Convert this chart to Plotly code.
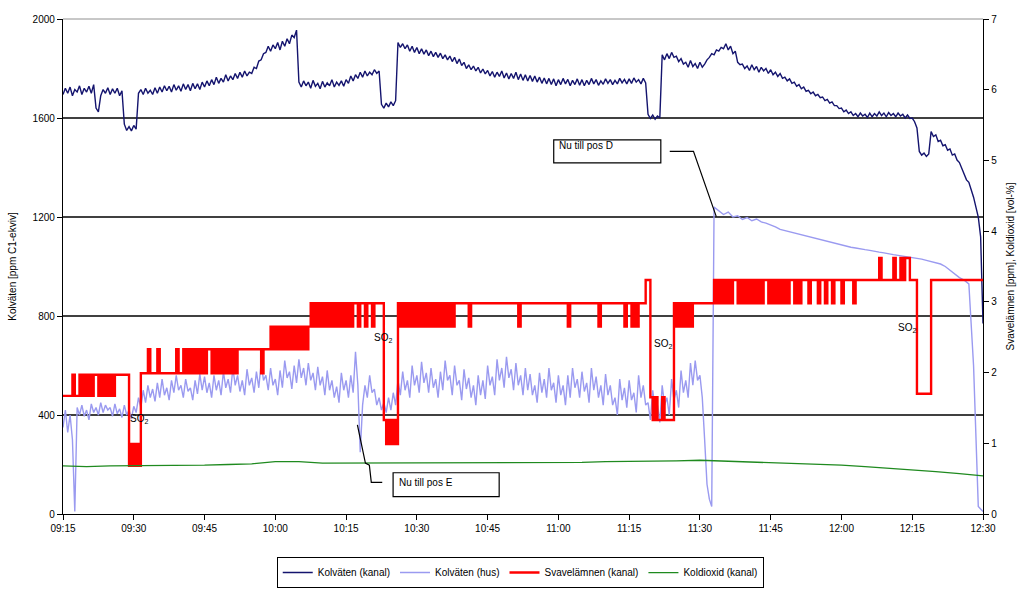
import pandas as pd
import plotly.graph_objects as go

# ---- time base -------------------------------------------------------------
START = pd.Timestamp("2000-01-01 09:15")
END = pd.Timestamp("2000-01-01 12:30")

# minutes after 09:15
t_half = [i * 0.5 for i in range(391)]                       # 09:15 - 12:30, 30 s
t_hus = [i * 0.5 for i in range(277)] + list(range(139, 196))  # 30 s until 11:33, then 1 min
t_5min = list(range(0, 196, 5))

# ---- Kolväten (kanal), ppm C1-ekviv, every 30 s ----------------------------
kolvaten_kanal = [
    1695, 1720, 1700, 1725, 1690, 1715, 1705, 1730, 1695, 1720, 1705, 1728, 1700, 1735, 1640, 1625, 1690, 1715, 1700, 1722,
    1695, 1718, 1700, 1720, 1690, 1710, 1575, 1550, 1565, 1548, 1570, 1555, 1700, 1715, 1695, 1720, 1700, 1712, 1695, 1722,
    1700, 1725, 1705, 1730, 1710, 1728, 1705, 1735, 1712, 1730, 1708, 1738, 1715, 1735, 1710, 1740, 1718, 1738, 1715, 1745,
    1725, 1750, 1730, 1755, 1735, 1765, 1740, 1760, 1745, 1775, 1750, 1770, 1755, 1780, 1760, 1785, 1765, 1790, 1770, 1785,
    1780, 1805, 1800, 1830, 1835, 1860, 1865, 1890, 1870, 1895, 1880, 1905, 1875, 1910, 1890, 1920, 1900, 1935, 1925, 1955,
    1745, 1725, 1750, 1730, 1745, 1720, 1752, 1728, 1740, 1718, 1748, 1725, 1742, 1730, 1755, 1725, 1745, 1732, 1750, 1728,
    1755, 1740, 1770, 1750, 1775, 1760, 1785, 1765, 1790, 1770, 1785, 1775, 1795, 1780, 1790, 1655, 1640, 1660, 1645, 1665,
    1650, 1670, 1905, 1885, 1900, 1880, 1895, 1870, 1890, 1865, 1885, 1860, 1880, 1858, 1875, 1852, 1870, 1848, 1865, 1845,
    1862, 1840, 1855, 1835, 1850, 1828, 1845, 1820, 1838, 1812, 1825, 1800, 1815, 1795, 1810, 1790, 1805, 1782, 1798, 1778,
    1792, 1770, 1788, 1765, 1785, 1768, 1790, 1762, 1782, 1758, 1780, 1760, 1785, 1755, 1778, 1752, 1775, 1750, 1772, 1748,
    1770, 1745, 1765, 1740, 1762, 1738, 1760, 1735, 1758, 1730, 1755, 1735, 1760, 1738, 1756, 1730, 1752, 1735, 1758, 1732,
    1755, 1730, 1752, 1735, 1760, 1738, 1755, 1732, 1750, 1736, 1758, 1740, 1755, 1735, 1752, 1738, 1760, 1742, 1756, 1738,
    1758, 1740, 1762, 1745, 1755, 1738, 1760, 1742, 1615, 1598, 1612, 1595, 1608, 1600, 1855, 1835, 1860, 1840, 1865, 1845,
    1850, 1828, 1840, 1818, 1825, 1805, 1832, 1808, 1820, 1800, 1825, 1805, 1818, 1835, 1845, 1860, 1855, 1875, 1870, 1885,
    1880, 1900, 1875, 1890, 1860, 1870, 1825, 1815, 1818, 1800, 1810, 1792, 1815, 1795, 1808, 1785, 1805, 1790, 1800, 1780,
    1795, 1775, 1785, 1768, 1780, 1760, 1765, 1750, 1758, 1740, 1745, 1728, 1735, 1718, 1725, 1708, 1712, 1698, 1705, 1690,
    1695, 1682, 1685, 1670, 1675, 1660, 1665, 1650, 1650, 1638, 1640, 1625, 1632, 1618, 1625, 1610, 1618, 1605, 1620, 1608,
    1615, 1602, 1620, 1605, 1618, 1608, 1625, 1610, 1620, 1605, 1622, 1610, 1618, 1605, 1620, 1608, 1615, 1600, 1612, 1598,
    1600, 1585, 1560, 1465, 1450, 1458, 1445, 1455, 1545, 1525, 1532, 1505, 1510, 1488, 1492, 1470, 1475, 1450, 1455, 1430,
    1420, 1395, 1375, 1350, 1340, 1310, 1280, 1240, 1200, 1120, 770,
]

# ---- Kolväten (hus), ppm C1-ekviv ------------------------------------------
kolvaten_hus = [
    350, 420, 330, 400, 300, 10, 430, 400, 440, 395, 420, 380, 445, 410, 430, 400, 450, 410, 440, 420,
    430, 395, 445, 405, 425, 390, 440, 400, 420, 385, 435, 410, 470, 430, 500, 450, 520, 470, 505, 455,
    530, 470, 545, 480, 510, 460, 540, 490, 560, 500, 520, 470, 545, 495, 510, 460, 540, 485, 565, 500,
    555, 490, 530, 470, 560, 500, 540, 480, 575, 510, 545, 490, 590, 520, 560, 495, 540, 480, 585, 520,
    550, 490, 575, 510, 610, 540, 560, 500, 590, 520, 545, 480, 580, 510, 620, 550, 575, 505, 600, 530,
    625, 550, 590, 520, 610, 540, 570, 500, 595, 520, 555, 480, 580, 500, 540, 470, 515, 450, 570, 500,
    540, 470, 560, 490, 655, 520, 250, 440, 520, 470, 560, 490, 505, 440, 470, 420, 450, 410, 470, 420,
    490, 440, 540, 480, 575, 500, 540, 470, 600, 520, 560, 490, 615, 530, 570, 490, 590, 510, 545, 470,
    575, 500, 620, 540, 560, 480, 600, 520, 540, 460, 585, 505, 550, 470, 520, 440, 560, 480, 540, 465,
    600, 520, 555, 480, 625, 540, 590, 510, 635, 550, 585, 500, 610, 520, 560, 480, 590, 500, 565, 480,
    520, 450, 570, 490, 545, 470, 590, 500, 530, 450, 560, 480, 520, 440, 560, 470, 590, 510, 545, 470,
    575, 495, 530, 450, 590, 500, 555, 470, 520, 440, 565, 480, 520, 440, 470, 400, 545, 460, 510, 430,
    540, 460, 490, 410, 560, 470, 520, 440, 450, 380, 500, 420, 440, 370, 520, 440, 470, 400, 545, 460,
    500, 430, 580, 490, 540, 470, 610, 520, 620, 540, 560, 470, 300, 120, 60, 30, 1240,
    1225, 1210, 1220, 1200, 1205, 1190, 1198, 1185, 1192, 1180, 1175,
    1168, 1160, 1150, 1145, 1140, 1135, 1130, 1125, 1122, 1115,
    1110, 1105, 1100, 1098, 1092, 1085, 1082, 1078, 1075, 1070,
    1068, 1065, 1060, 1058, 1055, 1050, 1048, 1045, 1042, 1040,
    1038, 1035, 1030, 1025, 1020, 1015, 1010, 1000, 985, 970,
    955, 945, 930, 600, 30, 10,
]

# ---- Svavelämnen (kanal), ppm, every 30 s ----------------------------------
svavelamnen = [
    1.67, 1.67, 1.67, 1.67, 1.97, 1.67, 1.67, 1.97, 1.67, 1.97, 1.67, 1.97, 1.67, 1.97, 1.97, 1.67, 1.97, 1.67, 1.97, 1.67,
    1.97, 1.67, 1.97, 1.97, 1.97, 1.97, 1.97, 1.97, 0.68, 0.99, 0.68, 0.99, 0.68, 1.99, 1.99, 1.99, 2.33, 1.99, 1.99, 1.99,
    2.33, 1.99, 1.99, 1.99, 1.99, 1.99, 1.99, 1.99, 2.33, 1.99, 1.99, 2.33, 1.99, 2.33, 1.99, 2.33, 1.99, 2.33, 1.99, 2.33,
    1.99, 2.33, 2.33, 1.99, 2.33, 1.99, 2.33, 1.99, 2.33, 1.99, 2.33, 1.99, 2.33, 1.99, 2.33, 2.33, 2.33, 2.33, 2.33, 2.33,
    2.33, 2.33, 2.33, 2.33, 1.99, 2.33, 2.33, 2.33, 2.65, 2.33, 2.65, 2.33, 2.65, 2.33, 2.65, 2.33, 2.65, 2.33, 2.65, 2.33,
    2.65, 2.33, 2.65, 2.33, 2.65, 2.98, 2.65, 2.98, 2.65, 2.98, 2.65, 2.98, 2.65, 2.98, 2.65, 2.98, 2.65, 2.98, 2.65, 2.98,
    2.65, 2.98, 2.65, 2.98, 2.98, 2.65, 2.98, 2.98, 2.65, 2.98, 2.98, 2.65, 2.98, 2.98, 2.98, 2.98, 1.33, 0.99, 1.33, 0.99,
    1.33, 0.99, 2.98, 2.65, 2.98, 2.65, 2.98, 2.65, 2.98, 2.65, 2.98, 2.65, 2.98, 2.65, 2.98, 2.65, 2.98, 2.65, 2.98, 2.65,
    2.98, 2.65, 2.98, 2.65, 2.98, 2.65, 2.98, 2.98, 2.98, 2.98, 2.98, 2.98, 2.65, 2.98, 2.98, 2.98, 2.98, 2.98, 2.98, 2.98,
    2.98, 2.98, 2.98, 2.98, 2.98, 2.98, 2.98, 2.98, 2.98, 2.98, 2.98, 2.98, 2.98, 2.65, 2.98, 2.98, 2.98, 2.98, 2.98, 2.98,
    2.98, 2.98, 2.98, 2.98, 2.98, 2.98, 2.98, 2.98, 2.98, 2.98, 2.98, 2.98, 2.98, 2.98, 2.65, 2.98, 2.98, 2.98, 2.98, 2.98,
    2.98, 2.98, 2.98, 2.98, 2.98, 2.98, 2.98, 2.65, 2.98, 2.98, 2.98, 2.98, 2.98, 2.98, 2.98, 2.98, 2.98, 2.98, 2.65, 2.98,
    2.98, 2.65, 2.98, 2.65, 2.98, 2.98, 2.98, 3.31, 3.31, 1.65, 1.33, 1.65, 1.33, 1.33, 1.65, 1.33, 1.33, 1.33, 1.33, 2.98,
    2.65, 2.98, 2.65, 2.98, 2.65, 2.98, 2.65, 2.98, 2.98, 2.98, 2.98, 2.98, 2.98, 2.98, 2.98, 2.98, 3.31, 2.98, 3.31, 2.98,
    3.31, 2.98, 3.31, 2.98, 3.31, 3.31, 2.98, 3.31, 2.98, 3.31, 2.98, 3.31, 2.98, 3.31, 2.98, 3.31, 2.98, 3.31, 3.31, 2.98,
    3.31, 2.98, 3.31, 2.98, 3.31, 2.98, 3.31, 2.98, 3.31, 3.31, 2.98, 3.31, 2.98, 3.31, 3.31, 3.31, 2.98, 3.31, 3.31, 3.31,
    2.98, 3.31, 3.31, 2.98, 3.31, 3.31, 2.98, 3.31, 3.31, 3.31, 2.98, 3.31, 3.31, 3.31, 3.31, 2.98, 3.31, 3.31, 3.31, 3.31,
    3.31, 3.31, 3.31, 3.31, 3.31, 3.31, 3.62, 3.31, 3.31, 3.31, 3.31, 3.31, 3.62, 3.31, 3.31, 3.62, 3.31, 3.62, 3.62, 3.31,
    3.31, 3.31, 1.70, 1.70, 1.70, 1.70, 1.70, 1.70, 3.31, 3.31, 3.31, 3.31, 3.31, 3.31, 3.31, 3.31, 3.31, 3.31, 3.31, 3.31,
    3.31, 3.31, 3.31, 3.31, 3.31, 3.31, 3.31, 3.31, 3.31, 3.31, 3.31,
]

# ---- Koldioxid (kanal), vol-%, every 5 min ---------------------------------
koldioxid = [
    0.68, 0.67, 0.68, 0.68, 0.68, 0.69, 0.69, 0.70, 0.71, 0.74,
    0.74, 0.72, 0.72, 0.72, 0.72, 0.72, 0.73, 0.72, 0.73, 0.73,
    0.72, 0.73, 0.73, 0.74, 0.74, 0.75, 0.75, 0.76, 0.75, 0.74,
    0.72, 0.71, 0.70, 0.69, 0.67, 0.65, 0.63, 0.60, 0.57, 0.54,
]

# ---- axes ------------------------------------------------------------------
left_ticks = [0, 400, 800, 1200, 1600, 2000]
grid_levels = [400, 800, 1200, 1600]
right_ticks = [0, 1, 2, 3, 4, 5, 6, 7]

FONT = "Liberation Sans, Arial, sans-serif"


def clock(mins):
    return [START + pd.Timedelta(minutes=m) for m in mins]


fig = go.Figure()
fig.add_trace(go.Scatter(x=clock(t_half), y=kolvaten_kanal, name="Kolväten (kanal)",
                         mode="lines", line=dict(color="#14146e", width=1.4)))
fig.add_trace(go.Scatter(x=clock(t_hus), y=kolvaten_hus, name="Kolväten (hus)",
                         mode="lines", line=dict(color="#9a9af0", width=1.4)))
fig.add_trace(go.Scatter(x=clock(t_half), y=svavelamnen, name="Svavelämnen (kanal)",
                         mode="lines", line=dict(color="#ff0000", width=2.4, shape="hv"),
                         yaxis="y2"))
fig.add_trace(go.Scatter(x=clock(t_5min), y=koldioxid, name="Koldioxid (kanal)",
                         mode="lines", line=dict(color="#1f8a1f", width=1.3),
                         yaxis="y2"))

# horizontal reference lines on the left scale
for lvl in grid_levels:
    fig.add_shape(type="line", xref="paper", x0=0, x1=1, yref="y", y0=lvl, y1=lvl,
                  line=dict(color="black", width=1.3), layer="below")
# top frame of the plot area
fig.add_shape(type="line", xref="paper", x0=0, x1=1, yref="paper", y0=1, y1=1,
              line=dict(color="#909090", width=1), layer="below")

# callout boxes
callouts = [
    ("Nu till pos D", 0.5334, 0.6498, 0.7093, 0.7558, 0.5366, 0.7442,
     "M 0.6595 0.7326 L 0.6853 0.7326 L 0.7101 0.6008"),
    ("Nu till pos E", 0.3588, 0.4741, 0.0349, 0.0833, 0.3631, 0.0640,
     "M 0.3200 0.1802 L 0.3287 0.1027 L 0.3330 0.0988 L 0.3351 0.0640 L 0.3470 0.0640"),
]
for text, bx0, bx1, by0, by1, tx, ty, path in callouts:
    fig.add_shape(type="rect", xref="paper", yref="paper", x0=bx0, x1=bx1, y0=by0, y1=by1,
                  line=dict(color="black", width=1.2), fillcolor="white")
    fig.add_shape(type="path", xref="paper", yref="paper", path=path,
                  line=dict(color="black", width=1.2))
    fig.add_annotation(text=text, xref="paper", yref="paper", x=tx, y=ty,
                       xanchor="left", yanchor="middle", showarrow=False,
                       font=dict(family=FONT, size=10, color="black"))

# SO2 markers at the dips
so2_marks = [(0.0711, 0.1764), (0.3481, 0.3547), (0.6519, 0.3430), (0.9289, 0.3760)]
for sx, sy in so2_marks:
    fig.add_annotation(text="SO<sub>2</sub>", xref="paper", yref="paper", x=sx, y=sy,
                       showarrow=False, font=dict(family=FONT, size=10, color="black"))

fig.update_layout(
    width=1026, height=600,
    margin=dict(l=61, r=37, t=19, b=65),
    paper_bgcolor="white", plot_bgcolor="white",
    font=dict(family=FONT, size=10, color="black"),
    showlegend=True,
    legend=dict(orientation="h", x=0.497, xanchor="center", y=-0.087, yanchor="top",
                bordercolor="black", borderwidth=1, bgcolor="white",
                font=dict(family=FONT, size=10), itemwidth=30, tracegroupgap=0),
    xaxis=dict(type="date", range=[START, END], tick0=START, dtick=15 * 60 * 1000,
               tickformat="%H:%M", showgrid=False, zeroline=False,
               showline=True, linecolor="black", linewidth=1.3,
               ticks="outside", ticklen=5, tickcolor="black",
               tickfont=dict(family=FONT, size=10)),
    yaxis=dict(range=[0, 2000], tickvals=left_ticks, showgrid=False, zeroline=False,
               showline=True, linecolor="black", linewidth=1.3,
               ticks="outside", ticklen=5, tickcolor="black",
               title=dict(text="Kolväten [ppm C1-ekviv]", font=dict(family=FONT, size=10),
                          standoff=14),
               tickfont=dict(family=FONT, size=10)),
    yaxis2=dict(range=[0, 7], tickvals=right_ticks, overlaying="y", side="right",
                showgrid=False, zeroline=False,
                showline=True, linecolor="black", linewidth=1.3,
                ticks="outside", ticklen=5, tickcolor="black",
                title=dict(text="Svavelämnen [ppm], Koldioxid [vol-%]",
                           font=dict(family=FONT, size=10), standoff=10),
                tickfont=dict(family=FONT, size=10)),
)

fig.write_html("out.html")
